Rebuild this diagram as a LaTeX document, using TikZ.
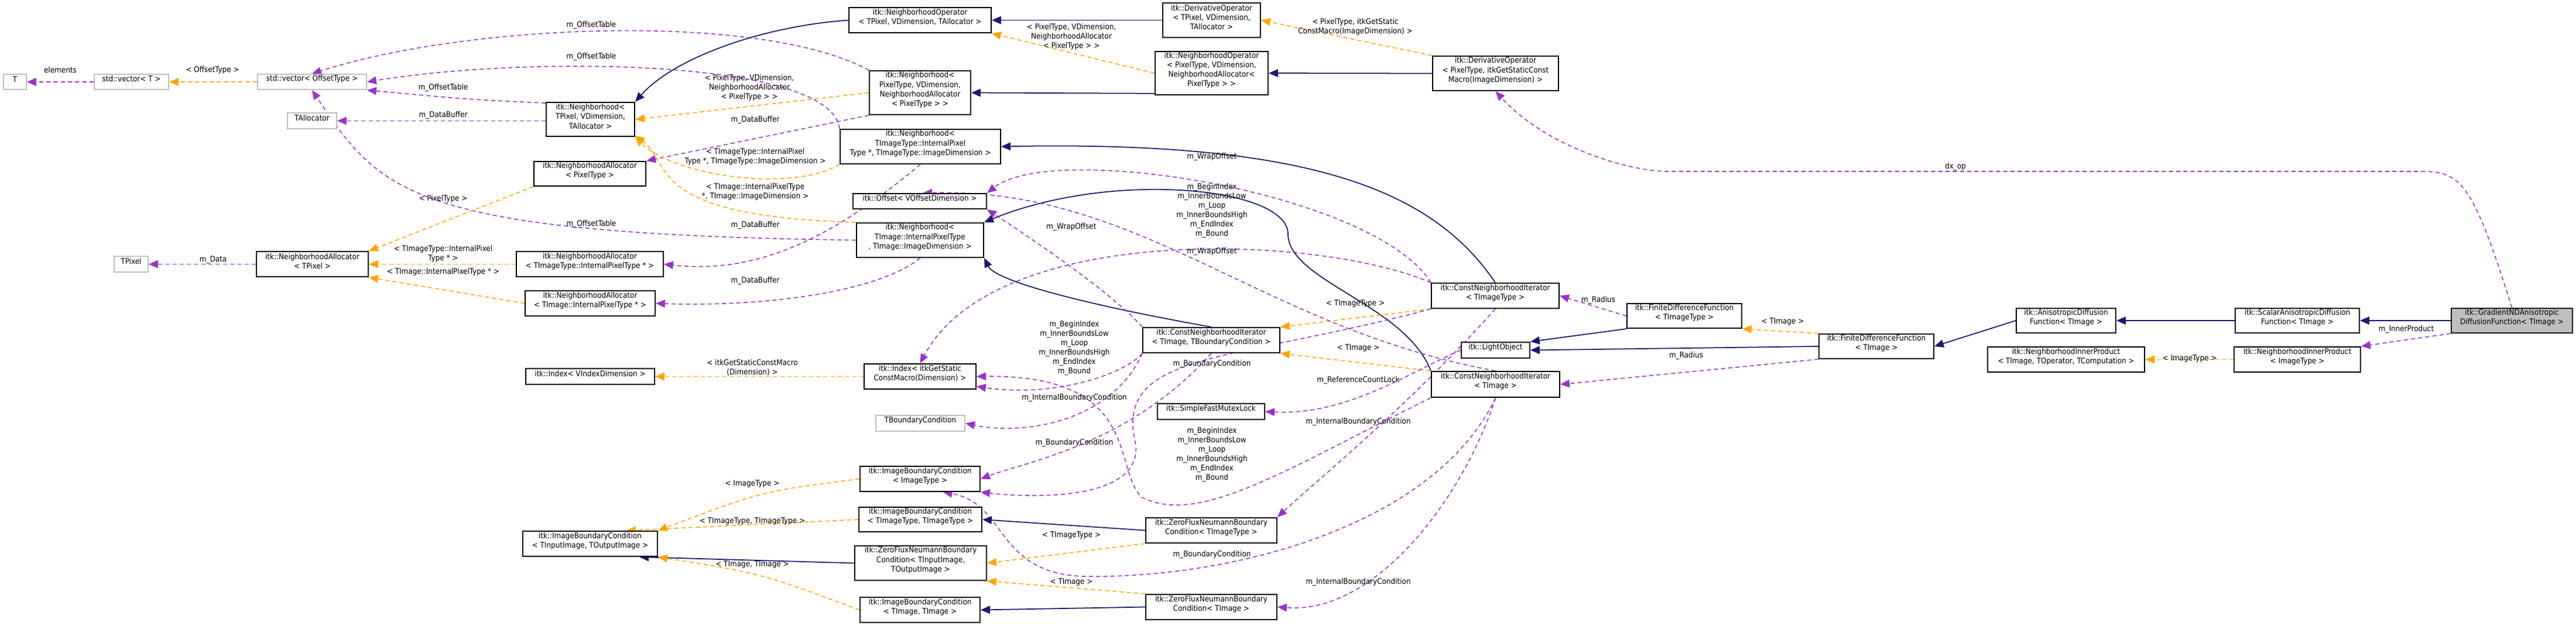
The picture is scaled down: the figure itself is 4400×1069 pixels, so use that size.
\documentclass[tikz,border=0pt]{standalone}
\usepackage{fontspec}
\setmainfont{DejaVu Sans Condensed}
\usetikzlibrary{arrows.meta,fit}
\pgfdeclarelayer{bg}
\pgfsetlayers{bg,main}
\definecolor{inhc}{HTML}{191970}
\definecolor{usec}{HTML}{9A32CD}
\definecolor{tplc}{HTML}{FFA500}
\tikzset{
 box/.style={draw=black,line width=0.6pt,fill=white,inner sep=0pt,align=center,font=\fontsize{3.8}{4.6}\selectfont},
 gbox/.style={box,draw=black!25},
 lbl/.style={align=center,font=\fontsize{3.8}{4.6}\selectfont,inner sep=0pt},
 tip/.style={-{Triangle[length=4.5pt,width=3.8pt]}},
 inh/.style={tip,draw=inhc,line width=0.5pt},
 usep/.style={tip,draw=usec,line width=0.45pt,dash pattern=on 2pt off 1.5pt},
 tmpl/.style={tip,draw=tplc,line width=0.45pt,dash pattern=on 2pt off 1.5pt},
}
\begin{document}
\begin{tikzpicture}[x=0.01cm,y=-0.01cm]
\useasboundingbox (0,0) rectangle (4400,1069);
% nodes
\node[gbox,fit={(6,127)(45,153)}] (t) {T};
\node[gbox,fit={(161,127)(288,153)}] (vect) {std::vector< T >};
\node[gbox,fit={(440,127)(626,153)}] (vecoff) {std::vector< OffsetType >};
\node[gbox,fit={(491,193)(575,220)}] (talloc) {TAllocator};
\node[box,fit={(933,175)(1084,233)}] (nbtp) {itk::Neighborhood<\\ TPixel, VDimension,\\ TAllocator >};
\node[box,fit={(912,276)(1103,318)}] (napt) {itk::NeighborhoodAllocator\\< PixelType >};
\node[gbox,fit={(195,438)(253,465)}] (tpixel) {TPixel};
\node[box,fit={(438,430)(629,473)}] (natp) {itk::NeighborhoodAllocator\\< TPixel >};
\node[box,fit={(882,430)(1133,473)}] (natit) {itk::NeighborhoodAllocator\\< TImageType::InternalPixelType * >};
\node[box,fit={(897,497)(1119,540)}] (nati) {itk::NeighborhoodAllocator\\< TImage::InternalPixelType * >};
\node[box,fit={(1450,13)(1693,56)}] (nbop1) {itk::NeighborhoodOperator\\< TPixel, VDimension, TAllocator >};
\node[box,fit={(1986,5)(2153,64)}] (dop1) {itk::DerivativeOperator\\< TPixel, VDimension,\\ TAllocator >};
\node[box,fit={(1973,88)(2166,162)}] (nbop2) {itk::NeighborhoodOperator\\< PixelType, VDimension,\\ NeighborhoodAllocator<\\ PixelType > >};
\node[box,fit={(1485,121)(1658,196)}] (nbpt) {itk::Neighborhood<\\ PixelType, VDimension,\\ NeighborhoodAllocator\\< PixelType > >};
\node[box,fit={(1435,221)(1709,280)}] (nbtit) {itk::Neighborhood<\\ TImageType::InternalPixel\\Type *, TImageType::ImageDimension >};
\node[box,fit={(1457,331)(1685,357)}] (offset) {itk::Offset< VOffsetDimension >};
\node[box,fit={(1463,381)(1680,440)}] (nbti) {itk::Neighborhood<\\ TImage::InternalPixelType\\ *, TImage::ImageDimension >};
\node[box,fit={(2447,96)(2662,155)}] (dop2) {itk::DerivativeOperator\\< PixelType, itkGetStaticConst\\Macro(ImageDimension) >};
\node[box,fit={(2445,484)(2663,527)}] (cnitt) {itk::ConstNeighborhoodIterator\\< TImageType >};
\node[box,fit={(2779,519)(2975,561)}] (fdftt) {itk::FiniteDifferenceFunction\\< TImageType >};
\node[box,fit={(2496,585)(2613,612)}] (light) {itk::LightObject};
\node[box,fit={(2445,635)(2664,679)}] (cnit) {itk::ConstNeighborhoodIterator\\< TImage >};
\node[box,fit={(3107,571)(3303,613)}] (fdft) {itk::FiniteDifferenceFunction\\< TImage >};
\node[box,fit={(3444,527)(3614,569)}] (aniso) {itk::AnisotropicDiffusion\\Function< TImage >};
\node[box,fit={(3818,527)(4030,569)}] (scalar) {itk::ScalarAnisotropicDiffusion\\Function< TImage >};
\node[box,fill=black!25,fit={(4187,527)(4394,569)}] (grad) {itk::GradientNDAnisotropic\\DiffusionFunction< TImage >};
\node[box,fit={(3395,593)(3663,636)}] (nip1) {itk::NeighborhoodInnerProduct\\< TImage, TOperator, TComputation >};
\node[box,fit={(3816,593)(4032,636)}] (nip2) {itk::NeighborhoodInnerProduct\\< ImageType >};
\node[box,fit={(898,630)(1118,657)}] (idxv) {itk::Index< VIndexDimension >};
\node[box,fit={(893,908)(1123,951)}] (ibcio) {itk::ImageBoundaryCondition\\< TInputImage, TOutputImage >};
\node[box,fit={(1952,560)(2186,603)}] (cnitbc) {itk::ConstNeighborhoodIterator\\< TImage, TBoundaryCondition >};
\node[box,fit={(1476,622)(1667,665)}] (idxs) {itk::Index< itkGetStatic\\ConstMacro(Dimension) >};
\node[gbox,fit={(1496,710)(1648,737)}] (tbc) {TBoundaryCondition};
\node[box,fit={(1977,690)(2160,717)}] (mutex) {itk::SimpleFastMutexLock};
\node[box,fit={(1469,797)(1674,840)}] (ibcit) {itk::ImageBoundaryCondition\\< ImageType >};
\node[box,fit={(1467,867)(1677,909)}] (ibctt) {itk::ImageBoundaryCondition\\< TImageType, TImageType >};
\node[box,fit={(1460,933)(1685,992)}] (zfnio) {itk::ZeroFluxNeumannBoundary\\Condition< TInputImage,\\ TOutputImage >};
\node[box,fit={(1469,1021)(1674,1064)}] (ibcti) {itk::ImageBoundaryCondition\\< TImage, TImage >};
\node[box,fit={(1957,885)(2181,928)}] (zfntt) {itk::ZeroFluxNeumannBoundary\\Condition< TImageType >};
\node[box,fit={(1957,1016)(2181,1059)}] (zfnti) {itk::ZeroFluxNeumannBoundary\\Condition< TImage >};
% edges
\begin{pgfonlayer}{bg}
\draw[usep] (vect) -- (t);
\draw[tmpl] (vecoff) -- (vect);
\draw[usep] (nbtp.160) .. controls (800,170) .. (vecoff.south east);
\draw[usep] (nbpt.north west) .. controls (1300,20) and (800,40) .. (vecoff.north);
\draw[usep] (nbtit.north west) .. controls (1420,100) and (900,95) .. (vecoff.east);
\draw[usep] (nbti.west) .. controls (700,400) and (650,330) .. (vecoff.south);
\draw[usep] (nbtp.west |- talloc.east) -- (talloc.east);
\draw[usep] (nbpt.south west) -- (napt.north east);
\draw[usep] (nbtit.south) .. controls (1430,400) and (1300,470) .. (natit.east);
\draw[usep] (nbti.south) .. controls (1500,500) and (1300,525) .. (nati.east);
\draw[usep] (natp) -- (tpixel);
\draw[tmpl] (napt.south west) -- (natp.north east);
\draw[tmpl] (natit.west) -- (natp.east);
\draw[tmpl] (nati.west) -- (natp.south east);
\draw[inh] (nbop1.west) .. controls (1300,45) and (1150,100) .. (nbtp.north east);
\draw[tmpl] (nbpt.west) -- (nbtp.east);
\draw[tmpl] (nbtit.south west) .. controls (1350,330) and (1150,300) .. (nbtp.south east);
\draw[tmpl] (nbti.north west) .. controls (1100,370) and (1150,280) .. (nbtp.-20);
\draw[inh] (dop1.west) -- (nbop1.east);
\draw[tmpl] (nbop2.west) -- (nbop1.south east);
\draw[inh] (nbop2.-20) -- (nbpt.east);
\draw[tmpl] (dop2.north west) -- (dop1.east);
\draw[inh] (dop2.west) -- (nbop2.east);
\draw[usep] (grad.north) .. controls (4220,300) and (4200,293) .. (4130,293) -- (2850,293) .. controls (2780,293) and (2640,250) .. (dop2.south);
\draw[inh] (cnitt.north) .. controls (2450,330) and (2250,240) .. (nbtit.east);
\draw[usep] (cnitt.north west) .. controls (2350,330) and (1800,240) .. (offset.north east);
\draw[usep] (cnitt.north west) .. controls (2250,400) and (1700,380) .. (idxs.north);
\draw[inh] (cnitbc.north) .. controls (1850,520) and (1700,480) .. (nbti.south east);
\draw[inh] (cnit.north west) .. controls (2400,520) and (2200,480) .. (2200,400) .. controls (2200,320) and (1900,290) .. (nbti.north east);
\draw[tmpl] (cnitt.south west) -- (cnitbc.north east);
\draw[tmpl] (cnit.north west) -- (cnitbc.south east);
\draw[usep] (cnitbc.south west) .. controls (1900,720) and (1750,745) .. (tbc.east);
\draw[usep] (cnitbc.south) .. controls (1930,760) and (1750,790) .. (ibcit.east);
\draw[usep] (cnitt.south west) .. controls (2100,620) and (1900,600) .. (1940,760) .. controls (1950,860) and (1750,850) .. (ibcit.south east);
\draw[usep] (cnitt.south) .. controls (2400,700) and (2250,820) .. (zfntt.north east);
\draw[usep] (cnit.south) .. controls (2450,900) and (2100,990) .. (1850,985) .. controls (1700,980) and (1720,860) .. (ibcit.-30);
\draw[usep] (cnit.south) .. controls (2500,850) and (2350,1050) .. (zfnti.east);
\draw[usep] (light.west) .. controls (2400,640) and (2300,710) .. (mutex.east);
\draw[usep] (cnit.south west) .. controls (2200,800) and (2050,900) .. (1950,850) .. controls (1900,800) and (1950,640) .. (idxs.east);
\draw[usep] (cnitbc.south west) .. controls (1920,640) and (1800,680) .. (idxs.-10);
\draw[usep] (cnitbc.north west) .. controls (1900,500) and (1750,400) .. (offset.south east);
\draw[usep] (cnit.north) .. controls (2150,560) and (1950,320) .. (offset.70);
\draw[tmpl] (ibcit.west) .. controls (1300,840) .. (ibcio.north east);
\draw[tmpl] (ibctt.west) -- (ibcio.20);
\draw[inh] (zfnio.west) -- (ibcio.-15);
\draw[tmpl] (ibcti.west) .. controls (1300,980) .. (ibcio.south east);
\draw[inh] (zfntt.west) -- (ibctt.east);
\draw[tmpl] (zfntt.south west) -- (zfnio.east);
\draw[inh] (zfnti.west) -- (ibcti.east);
\draw[tmpl] (zfnti.north west) -- (zfnio.south east);
\draw[tmpl] (idxs.west) -- (idxv.east);
\draw[usep] (fdftt.west) -- (cnitt.east);
\draw[inh] (fdftt.south west) -- (light.north east);
\draw[tmpl] (fdft.north west) -- (fdftt.south east);
\draw[inh] (fdft.west) -- (light.east);
\draw[usep] (fdft.south west) -- (cnit.east);
\draw[inh] (aniso.west) -- (fdft.east);
\draw[inh] (scalar.west) -- (aniso.east);
\draw[inh] (grad.west) -- (scalar.east);
\draw[usep] (grad.south west) -- (nip2.north east);
\draw[tmpl] (nip2.west) -- (nip1.east);
\end{pgfonlayer}
% labels
\node[lbl] (l1) at (103,120) {elements};
\node[lbl] (l2) at (363,120) {< OffsetType >};
\node[lbl] (l3) at (757,150) {m\_OffsetTable};
\node[lbl] (l4) at (1010,43) {m\_OffsetTable};
\node[lbl] (l5) at (1010,97) {m\_OffsetTable};
\node[lbl] (l6) at (1010,383) {m\_OffsetTable};
\node[lbl] (l7) at (757,197) {m\_DataBuffer};
\node[lbl] (l8) at (1290,205) {m\_DataBuffer};
\node[lbl] (l9) at (1290,385) {m\_DataBuffer};
\node[lbl] (l10) at (1290,480) {m\_DataBuffer};
\node[lbl] (l11) at (364,444) {m\_Data};
\node[lbl] (l12) at (757,340) {< PixelType >};
\node[lbl] (l13) at (757,434) {< TImageType::InternalPixel\\Type * >};
\node[lbl] (l14) at (757,465) {< TImage::InternalPixelType * >};
\node[lbl] (l16) at (1280,150) {< PixelType, VDimension,\\NeighborhoodAllocator\\< PixelType > >};
\node[lbl] (l17) at (1290,268) {< TImageType::InternalPixel\\Type *, TImageType::ImageDimension >};
\node[lbl] (l18) at (1290,328) {< TImage::InternalPixelType\\*, TImage::ImageDimension >};
\node[lbl] (l20) at (1830,63) {< PixelType, VDimension,\\NeighborhoodAllocator\\< PixelType > >};
\node[lbl] (l22) at (2315,46) {< PixelType, itkGetStatic\\ConstMacro(ImageDimension) >};
\node[lbl] (l24) at (3340,285) {dx\_op};
\node[lbl] (l26) at (2070,268) {m\_WrapOffset};
\node[lbl] (l27) at (2070,360) {m\_BeginIndex\\m\_InnerBoundsLow\\m\_Loop\\m\_InnerBoundsHigh\\m\_EndIndex\\m\_Bound};
\node[lbl] (l42) at (2070,430) {m\_WrapOffset};
\node[lbl] (l41) at (1830,388) {m\_WrapOffset};
\node[lbl] (l40) at (1835,595) {m\_BeginIndex\\m\_InnerBoundsLow\\m\_Loop\\m\_InnerBoundsHigh\\m\_EndIndex\\m\_Bound};
\node[lbl] (l39) at (2070,777) {m\_BeginIndex\\m\_InnerBoundsLow\\m\_Loop\\m\_InnerBoundsHigh\\m\_EndIndex\\m\_Bound};
\node[lbl] (l30) at (2315,519) {< TImageType >};
\node[lbl] (l31) at (2320,595) {< TImage >};
\node[lbl] (l32) at (1835,680) {m\_InternalBoundaryCondition};
\node[lbl] (l33) at (1835,757) {m\_BoundaryCondition};
\node[lbl] (l34) at (2070,622) {m\_BoundaryCondition};
\node[lbl] (l35) at (2320,721) {m\_InternalBoundaryCondition};
\node[lbl] (l36) at (2070,948) {m\_BoundaryCondition};
\node[lbl] (l37) at (2320,995) {m\_InternalBoundaryCondition};
\node[lbl] (l38) at (2320,650) {m\_ReferenceCountLock};
\node[lbl] (l43) at (1285,827) {< ImageType >};
\node[lbl] (l44) at (1285,891) {< TImageType, TImageType >};
\node[lbl] (l46) at (1285,965) {< TImage, TImage >};
\node[lbl] (l48) at (1830,915) {< TImageType >};
\node[lbl] (l50) at (1830,995) {< TImage >};
\node[lbl] (l51) at (1285,628) {< itkGetStaticConstMacro\\(Dimension) >};
\node[lbl] (l52) at (2730,513) {m\_Radius};
\node[lbl] (l54) at (3045,550) {< TImage >};
\node[lbl] (l56) at (2880,608) {m\_Radius};
\node[lbl] (l60) at (4110,563) {m\_InnerProduct};
\node[lbl] (l61) at (3740,613) {< ImageType >};
\end{tikzpicture}
\end{document}
